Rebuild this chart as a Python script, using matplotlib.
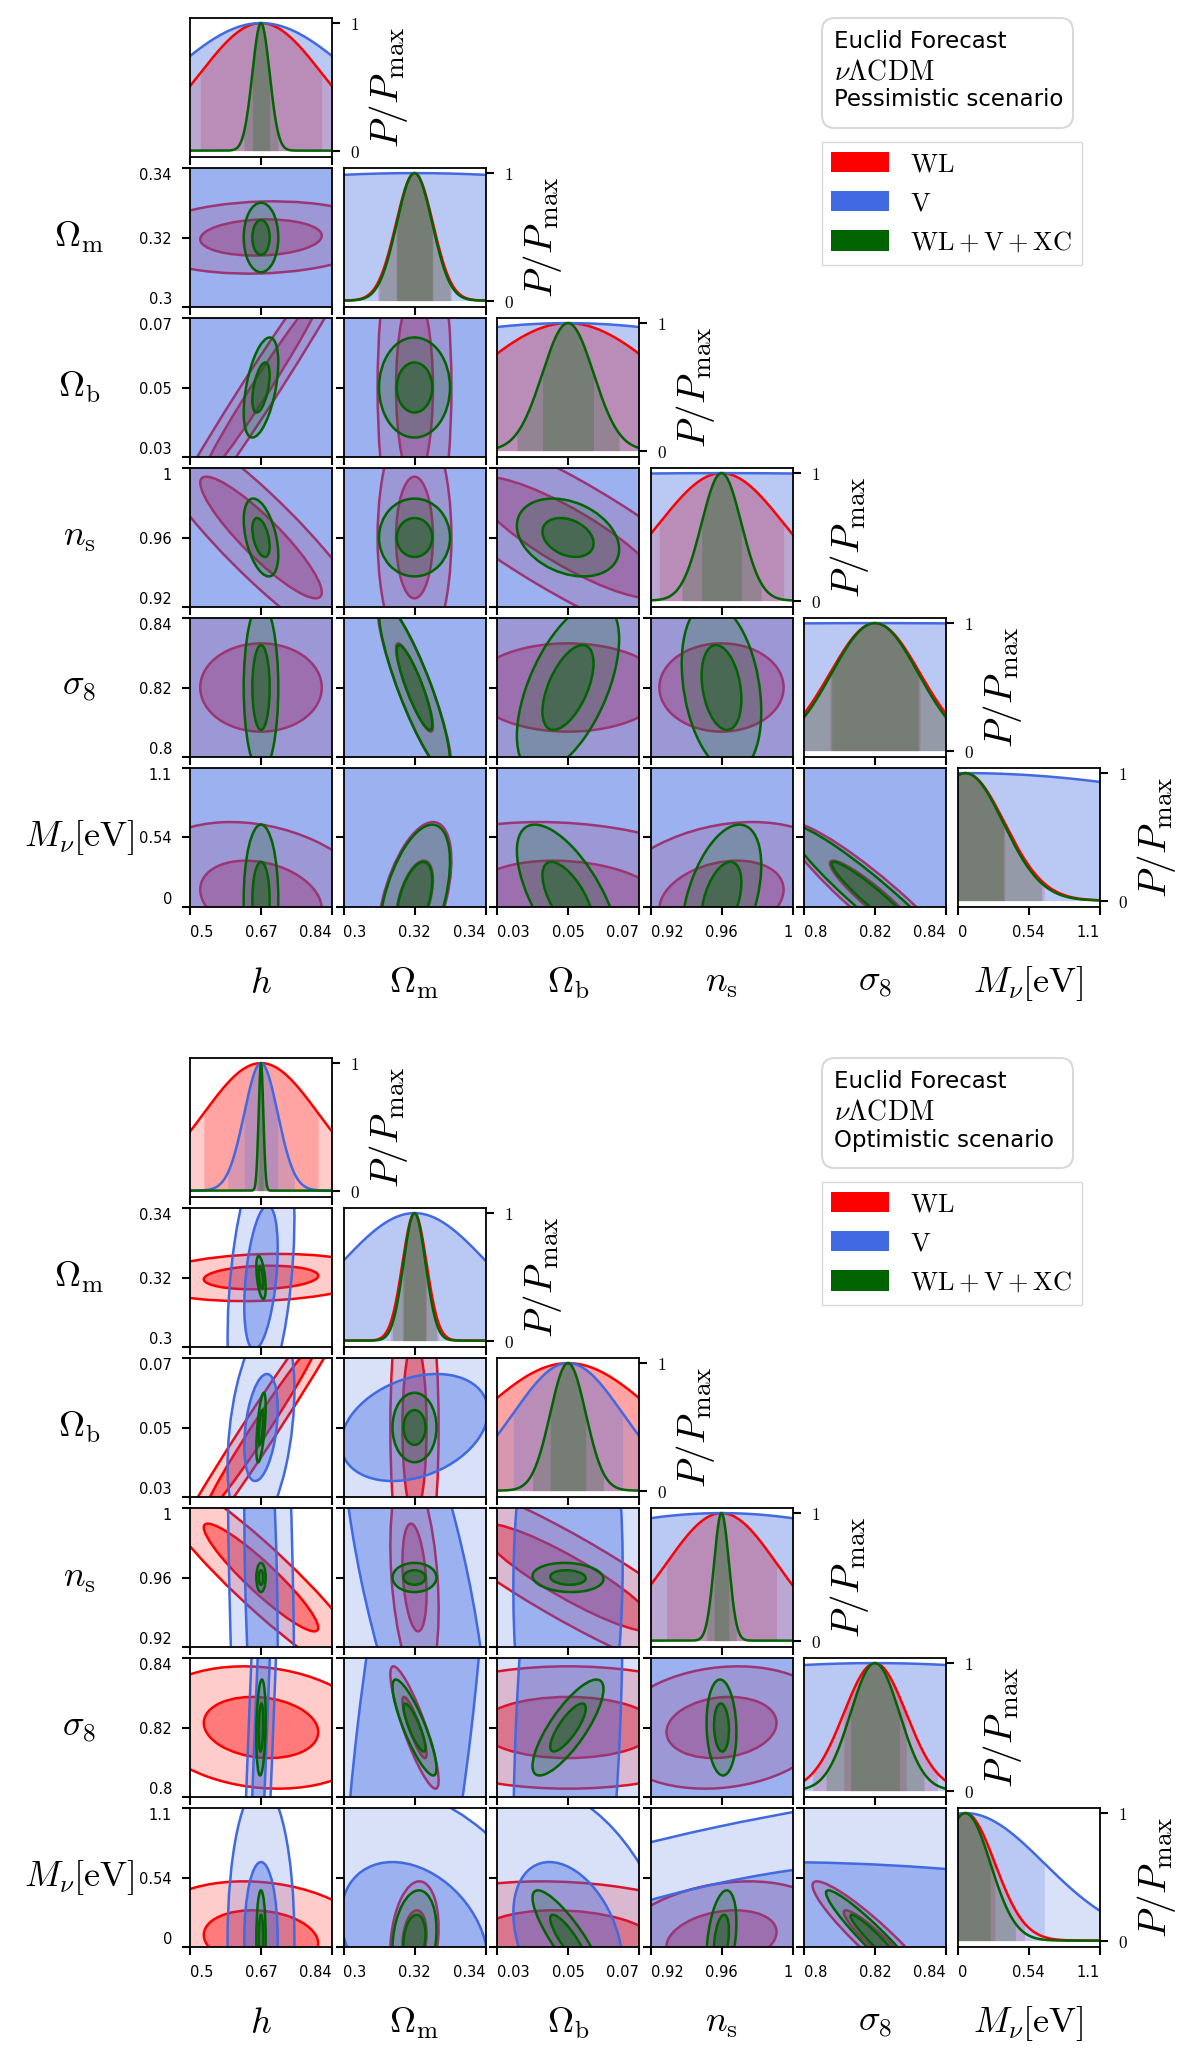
import numpy as np
import matplotlib.pyplot as plt
from matplotlib.patches import Ellipse, Patch, FancyBboxPatch

plt.rcParams['mathtext.fontset'] = 'cm'
plt.rcParams['font.family'] = 'DejaVu Sans'

# parameters
PARAM_LABELS = [r'$h$', r'$\Omega_\mathrm{m}$', r'$\Omega_\mathrm{b}$', r'$n_\mathrm{s}$',
                r'$\sigma_8$', r'$M_\nu[\mathrm{eV}]$']
FIDUCIAL = [0.67, 0.32, 0.05, 0.96, 0.82, 0.06]
LIMITS = [(0.5, 0.84), (0.3, 0.34), (0.03, 0.07), (0.92, 1.0), (0.8, 0.84), (0.0, 1.08)]
TICKS = [[0.5, 0.67, 0.84], [0.3, 0.32, 0.34], [0.03, 0.05, 0.07],
         [0.92, 0.96, 1.0], [0.8, 0.82, 0.84], [0.0, 0.54, 1.08]]
TICK_LABELS = [['0.5', '0.67', '0.84'], ['0.3', '0.32', '0.34'], ['0.03', '0.05', '0.07'],
               ['0.92', '0.96', '1'], ['0.8', '0.82', '0.84'], ['0', '0.54', '1.1']]

PROBES = [r'$\mathrm{WL}$', r'$\mathrm{V}$', r'$\mathrm{WL+V+XC}$']
COLORS = ['red', 'royalblue', 'darkgreen']

# (row, col) pairs of the lower triangle, order used for the correlation lists
PAIRS = [(1, 0), (2, 0), (2, 1), (3, 0), (3, 1), (3, 2), (4, 0), (4, 1), (4, 2), (4, 3),
         (5, 0), (5, 1), (5, 2), (5, 3), (5, 4)]

# pessimistic scenario: 1-sigma errors and correlations
SIG_PESS_WL = [0.1455, 0.0052, 0.027, 0.035, 0.0127, 0.30]
SIG_PESS_V = [0.22, 0.12, 0.08, 0.5, 0.3, 2.7]
SIG_PESS_XC = [0.0207, 0.0050, 0.0072, 0.0112, 0.0122, 0.29]
RHO_PESS_WL = [0.1, 0.985, 0.0, -0.9, 0.0, -0.85, 0.0, -0.88, 0.0, 0.0, -0.25, 0.5, -0.15, 0.25, -0.93]
RHO_PESS_V = [0.0, 0.0, 0.0, 0.0, 0.0, 0.0, 0.0, 0.0, 0.0, 0.0, 0.0, 0.0, 0.0, 0.0, 0.0]
RHO_PESS_XC = [0.0, 0.5, 0.0, -0.45, 0.0, -0.3, 0.0, -0.87, 0.57, -0.28, 0.0, 0.5, -0.65, 0.45, -0.95]

# optimistic scenario
SIG_OPT_WL = [0.137, 0.0034, 0.025, 0.031, 0.0088, 0.225]
SIG_OPT_V = [0.04, 0.0207, 0.0154, 0.14, 0.115, 0.6]
SIG_OPT_XC = [0.0056, 0.0031, 0.005, 0.0042, 0.0069, 0.19]
RHO_OPT_WL = [0.15, 0.985, 0.0, -0.93, -0.3, -0.9, -0.15, -0.87, 0.0, 0.15, -0.15, 0.2, -0.15, 0.25, -0.93]
RHO_OPT_V = [0.4, 0.35, 0.3, -0.3, -0.68, 0.05, 0.93, 0.63, 0.3, 0.0, 0.0, -0.3, -0.34, 0.68, -0.25]
RHO_OPT_XC = [-0.5, 0.6, 0.0, 0.0, 0.0, -0.1, 0.2, -0.85, 0.8, -0.1, 0.0, 0.2, -0.85, 0.35, -0.95]

W, H = 1200, 2067
fig = plt.figure(figsize=(W / 100, H / 100), dpi=100)

COL_X = [190, 343.5, 497, 650.5, 804, 957.5]
PW, PH = 142, 139
ROW_Y = [18 + 150 * i for i in range(6)]

LABEL_FS = 26
TICK_FS = 10.5
LW = 1.8


def style_ticks(ax):
    ax.tick_params(direction='out', length=6, width=1.5, labelsize=TICK_FS, pad=7)
    for sp in ax.spines.values():
        sp.set_linewidth(1.3)


def draw_corner(y0, sigmas, rhos, scenario):
    for i in range(6):
        for j in range(i + 1):
            ax = fig.add_axes([COL_X[j] / W, 1 - (y0 + ROW_Y[i] + PH) / H, PW / W, PH / H])
            style_ticks(ax)
            ax.set_xlim(LIMITS[j])
            ax.set_xticks(TICKS[j])
            if i == 5:
                ax.set_xticklabels(TICK_LABELS[j])
                lbls = ax.get_xticklabels()
                lbls[0].set_ha('left')
                lbls[-1].set_ha('right')
                ax.set_xlabel(PARAM_LABELS[j], fontsize=LABEL_FS, va='center')
                ax.xaxis.set_label_coords(0.5, -0.55)
            else:
                ax.set_xticklabels([])

            if i == j:
                # 1D marginal
                mu = FIDUCIAL[i]
                x = np.linspace(LIMITS[i][0], LIMITS[i][1], 800)
                curves = []
                for k in range(3):
                    s = sigmas[k][i]
                    p = np.exp(-0.5 * ((x - mu) / s) ** 2)
                    curves.append(p)
                    ax.fill_between(x, 0, p, where=np.abs(x - mu) <= 2 * s,
                                    color=COLORS[k], alpha=0.2, lw=0)
                    ax.fill_between(x, 0, p, where=np.abs(x - mu) <= s,
                                    color=COLORS[k], alpha=0.2, lw=0)
                for k in range(3):
                    ax.plot(x, curves[k], color=COLORS[k], lw=LW)
                ax.set_ylim(-0.05, 1.04)
                ax.yaxis.tick_right()
                ax.set_yticks([0, 1])
                ax.set_yticklabels(['$0$', '$1$'], fontsize=12.5)
                ax.yaxis.set_label_position('right')
                ax.set_ylabel(r'$P/P_\mathrm{max}$', fontsize=28, va='center')
                ax.yaxis.set_label_coords(1.4, 0.5)
            else:
                pi = PAIRS.index((i, j))
                mx, my = FIDUCIAL[j], FIDUCIAL[i]
                for k in range(3):
                    sx, sy = sigmas[k][j], sigmas[k][i]
                    r = rhos[k][pi]
                    cov = np.array([[sx * sx, r * sx * sy], [r * sx * sy, sy * sy]])
                    vals, vecs = np.linalg.eigh(cov)
                    ang = np.degrees(np.arctan2(vecs[1, 1], vecs[0, 1]))
                    for a, al in ((2, 0.2), (1, 0.4)):
                        ax.add_patch(Ellipse((mx, my), 2 * a * np.sqrt(vals[1]), 2 * a * np.sqrt(vals[0]),
                                             angle=ang, facecolor=COLORS[k], alpha=al, lw=0))
                    for a in (2, 1):
                        ax.add_patch(Ellipse((mx, my), 2 * a * np.sqrt(vals[1]), 2 * a * np.sqrt(vals[0]),
                                             angle=ang, fill=False, edgecolor=COLORS[k], lw=LW))
                ax.set_ylim(LIMITS[i])
                ax.set_yticks(TICKS[i])
                if j == 0:
                    ax.set_yticklabels(TICK_LABELS[i])
                    lbls = ax.get_yticklabels()
                    lbls[0].set_va('bottom')
                    lbls[-1].set_va('top')
                    ax.set_ylabel(PARAM_LABELS[i], fontsize=LABEL_FS, rotation=0,
                                  ha='center', va='center')
                    ax.yaxis.set_label_coords(-0.78, 0.5)
                else:
                    ax.set_yticklabels([])

    # rounded text box, positions in inches
    box = FancyBboxPatch((822 / 100, (H - y0 - 128) / 100), 2.51, 1.10,
                         boxstyle='round,pad=0,rounding_size=0.13',
                         transform=fig.dpi_scale_trans, fc='white', ec='0.85', lw=1.5)
    fig.add_artist(box)
    fig.text(834 / W, 1 - (y0 + 42) / H, 'Euclid Forecast', fontsize=16.5, ha='left', va='center')
    fig.text(834 / W, 1 - (y0 + 71) / H, r'$\nu\Lambda\mathrm{CDM}$', fontsize=20, ha='left', va='center')
    fig.text(834 / W, 1 - (y0 + 100) / H, scenario, fontsize=16.5, ha='left', va='center')

    handles = [Patch(facecolor=c, edgecolor='none') for c in COLORS]
    fig.legend(handles, PROBES, loc='upper left', bbox_to_anchor=(822 / W, 1 - (y0 + 142) / H),
               borderaxespad=0, fancybox=False, edgecolor='0.85', fontsize=19,
               handlelength=2.2, handleheight=0.8, handletextpad=0.8, labelspacing=0.5,
               borderpad=0.35, framealpha=1)


draw_corner(0, [SIG_PESS_WL, SIG_PESS_V, SIG_PESS_XC],
            [RHO_PESS_WL, RHO_PESS_V, RHO_PESS_XC], 'Pessimistic scenario')
draw_corner(1040, [SIG_OPT_WL, SIG_OPT_V, SIG_OPT_XC],
            [RHO_OPT_WL, RHO_OPT_V, RHO_OPT_XC], 'Optimistic scenario')

fig.savefig('out.png', dpi=100)
